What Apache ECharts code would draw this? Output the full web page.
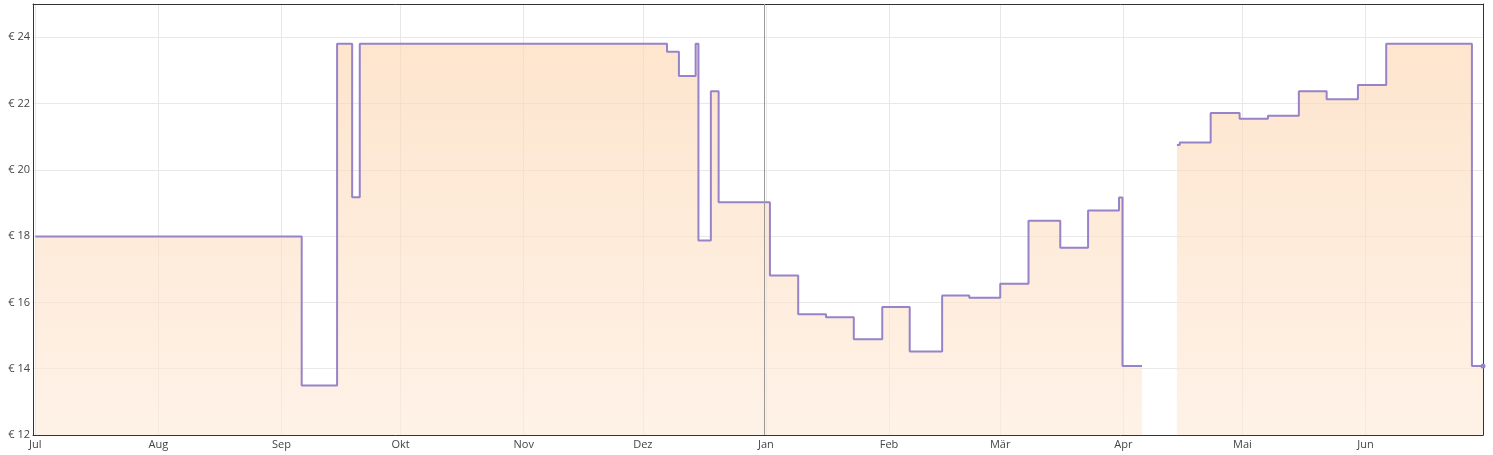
<!DOCTYPE html>
<html>
<head>
<meta charset="utf-8">
<script src="https://cdn.jsdelivr.net/npm/echarts@6/dist/echarts.min.js"></script>
<style>
html,body{margin:0;padding:0;background:#fff;}
#chart{width:1493px;height:455px;}
</style>
</head>
<body>
<div id="chart"></div>
<script>
// Price change dates (start of each price level); null marks a gap
const dates = [
  '2022-07-01 00:00','2022-09-06 02:00','2022-09-15 00:00','2022-09-18 19:00','2022-09-20 17:00',
  '2022-12-07 02:00','2022-12-10 02:00','2022-12-14 07:00','2022-12-15 00:00','2022-12-18 03:00',
  '2022-12-20 02:00','2023-01-02 00:00','2023-01-09 03:00','2023-01-16 03:00','2023-01-23 03:00',
  '2023-01-30 07:00','2023-02-06 05:00','2023-02-14 09:00','2023-02-21 05:00','2023-03-01 00:00',
  '2023-03-08 03:00','2023-03-16 03:00','2023-03-23 03:00','2023-03-30 22:00','2023-03-31 19:00',
  '2023-04-05 17:00','2023-04-05 17:01','2023-04-14 12:00','2023-04-15 05:00','2023-04-23 00:00',
  '2023-04-30 07:00','2023-05-07 10:00','2023-05-15 05:00','2023-05-22 05:00','2023-05-30 02:00',
  '2023-06-06 05:00','2023-06-27 19:00','2023-06-30 14:00'
];
const prices = [
  17.99, 13.49, 23.80, 19.17, 23.80,
  23.56, 22.83, 23.80, 17.87, 22.37,
  19.02, 16.81, 15.64, 15.55, 14.89,
  15.86, 14.52, 16.21, 16.14, 16.56,
  18.46, 17.65, 18.77, 19.16, 14.08,
  14.08, null, 20.75, 20.82, 21.71,
  21.54, 21.63, 22.37, 22.13, 22.56,
  23.80, 14.08, 14.08
];
const monthNames = ['Jan','Feb','Mär','Apr','Mai','Jun','Jul','Aug','Sep','Okt','Nov','Dez'];
const axisStart = '2022-06-30 10:00';
const axisEnd = '2023-06-30 14:00';
const markerDate = '2022-12-31 15:00';
const yMin = 12, yMax = 25, yStep = 2;

const seriesData = dates.map((d, i) => [d, prices[i]]);
const lastIdx = seriesData.length - 1;

const frameLine = {show: true, onZero: false, lineStyle: {color: '#333', width: 1}};
const labelStyle = {color: '#444', fontSize: 11, fontFamily: 'Open Sans, sans-serif'};

const chart = echarts.init(document.getElementById('chart'), null, {renderer: 'canvas'});
chart.setOption({
  animation: false,
  grid: {left: 33, top: 4, right: 10, bottom: 20, show: false},
  xAxis: [{
    type: 'time',
    min: axisStart,
    max: axisEnd,
    minInterval: 27 * 86400000,
    maxInterval: 32 * 86400000,
    axisLine: frameLine,
    axisTick: {show: false},
    splitLine: {show: true, lineStyle: {color: '#e8e8e8', width: 1}},
    axisLabel: Object.assign({}, labelStyle, {
      margin: 4,
      hideOverlap: false,
      formatter: function (val) { return monthNames[new Date(val).getMonth()]; }
    })
  }, {
    type: 'time',
    position: 'top',
    min: axisStart,
    max: axisEnd,
    axisLine: frameLine,
    axisTick: {show: false},
    axisLabel: {show: false},
    splitLine: {show: false}
  }],
  yAxis: [{
    type: 'value',
    min: yMin,
    max: yMax,
    interval: yStep,
    axisLine: frameLine,
    axisTick: {show: false},
    splitLine: {show: true, lineStyle: {color: '#e8e8e8', width: 1}},
    axisLabel: Object.assign({}, labelStyle, {
      margin: 3,
      showMaxLabel: false,
      formatter: function (v) { return '€ ' + v; }
    })
  }, {
    type: 'value',
    position: 'right',
    min: yMin,
    max: yMax,
    interval: yStep,
    axisLine: frameLine,
    axisTick: {show: false},
    axisLabel: {show: false},
    splitLine: {show: false}
  }],
  series: [{
    type: 'line',
    step: 'end',
    data: seriesData,
    connectNulls: false,
    symbol: 'circle',
    symbolSize: function (v, p) { return p.dataIndex === lastIdx ? 5 : 0; },
    showSymbol: true,
    showAllSymbol: true,
    itemStyle: {color: '#9683c9'},
    lineStyle: {color: '#9683c9', width: 2},
    areaStyle: {
      origin: 'start',
      color: new echarts.graphic.LinearGradient(0, 0, 0, 1, [
        {offset: 0, color: 'rgba(252,214,178,0.92)'},
        {offset: 1, color: 'rgba(253,234,217,0.92)'}
      ])
    },
    markLine: {
      silent: true,
      symbol: 'none',
      label: {show: false},
      lineStyle: {color: '#999', width: 1, type: 'solid'},
      data: [{xAxis: markerDate}]
    }
  }]
});
</script>
</body>
</html>
